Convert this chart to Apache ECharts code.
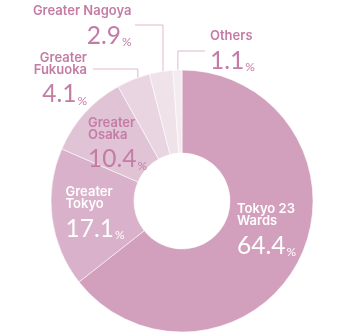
<!DOCTYPE html>
<html><head><meta charset="utf-8">
<script src="https://cdn.jsdelivr.net/npm/echarts@6/dist/echarts.min.js"></script>
<style>html,body{margin:0;padding:0;background:#fff}#c{width:360px;height:333px}</style>
</head><body><div id="c"></div>
<script>
// ---- data ----
const categories = ['Tokyo 23 Wards', 'Greater Tokyo', 'Greater Osaka', 'Greater Fukuoka', 'Greater Nagoya', 'Others'];
const labelNames = ['Tokyo 23\nWards', 'Greater\nTokyo', 'Greater\nOsaka', 'Greater\nFukuoka', 'Greater Nagoya', 'Others'];
const shares = [64.4, 17.1, 10.4, 4.1, 2.9, 1.1];

// ---- styling / layout ----
const colors = ['#d29fbd', '#d9b1ca', '#e1c3d6', '#e9d5e1', '#efe2e9', '#f4ebf0'];
const CX = 182, CY = 201, R_IN = 48, R_OUT = 131, LINE_R = 119;
const PINK = '#c47ca5';
const labelCfg = [
  {x: 237, y: 203.5, align: 'left', color: '#ffffff', inside: true},
  {x: 65.5, y: 186.5, align: 'left', color: '#ffffff', inside: true},
  {x: 88, y: 116.8, align: 'left', color: PINK, inside: true},
  {x: 87, y: 51.8, align: 'right', color: PINK, inside: false, elbowY: 69, endX: 93},
  {x: 131.5, y: 5.5, align: 'right', color: PINK, inside: false, elbowY: 25, endX: 135},
  {x: 210, y: 30.5, align: 'left', color: PINK, inside: false, elbowY: 51, endX: 205}
];

const NAME_FONT = 'Inter';
const NUM_FONT = 'Lato';
function rich(suffix, align) {
  const r = {};
  r['n' + suffix] = {fontFamily: NAME_FONT, fontSize: 13, fontWeight: 600, lineHeight: 12, align: align};
  r['v' + suffix] = {fontFamily: NUM_FONT, fontSize: 24.5, fontWeight: 'normal', lineHeight: 31, verticalAlign: 'bottom', align: align};
  r['p' + suffix] = {fontFamily: NUM_FONT, fontSize: 12, fontWeight: 'normal', lineHeight: 22, verticalAlign: 'bottom', align: align, padding: [0, 0, 0, 1]};
  return r;
}
const richAll = Object.assign({}, rich('L', 'left'), rich('R', 'right'));

const data = categories.map((name, i) => {
  const cfg = labelCfg[i];
  const s = cfg.align === 'right' ? 'R' : 'L';
  const lines = labelNames[i].split('\n').map(t => '{n' + s + '|' + t + '}');
  lines.push('{v' + s + '|' + shares[i].toFixed(1) + '}{p' + s + '|%}');
  return {
    name: name,
    value: shares[i],
    itemStyle: {color: colors[i]},
    label: {
      position: cfg.inside ? 'inside' : 'outside',
      color: cfg.color,
      formatter: lines.join('\n')
    },
    labelLine: {show: !cfg.inside}
  };
});

const chart = echarts.init(document.getElementById('c'), null, {renderer: 'canvas'});
chart.setOption({
  animation: false,
  backgroundColor: '#ffffff',
  series: [{
    type: 'pie',
    center: [CX, CY],
    radius: [R_IN, R_OUT],
    startAngle: 90,
    clockwise: true,
    avoidLabelOverlap: false,
    silent: true,
    itemStyle: {borderColor: 'rgba(255,255,255,0.7)', borderWidth: 0.8},
    label: {show: true, rich: richAll, fontFamily: NAME_FONT},
    labelLine: {lineStyle: {color: '#dfb8ce', width: 1}, smooth: false},
    emphasis: {disabled: true},
    labelLayout: function (params) {
      const cfg = labelCfg[params.dataIndex];
      const out = {x: cfg.x, y: cfg.y, align: cfg.align, verticalAlign: 'top'};
      if (!cfg.inside && params.labelLinePoints && params.labelLinePoints.length) {
        const p0 = params.labelLinePoints[0];
        const dx = p0[0] - CX, dy = p0[1] - CY;
        const len = Math.sqrt(dx * dx + dy * dy) || 1;
        const ax = CX + dx / len * LINE_R, ay = CY + dy / len * LINE_R;
        out.labelLinePoints = [[ax, ay], [ax, cfg.elbowY], [cfg.endX, cfg.elbowY]];
      }
      return out;
    },
    data: data
  }]
});
</script>
</body></html>
